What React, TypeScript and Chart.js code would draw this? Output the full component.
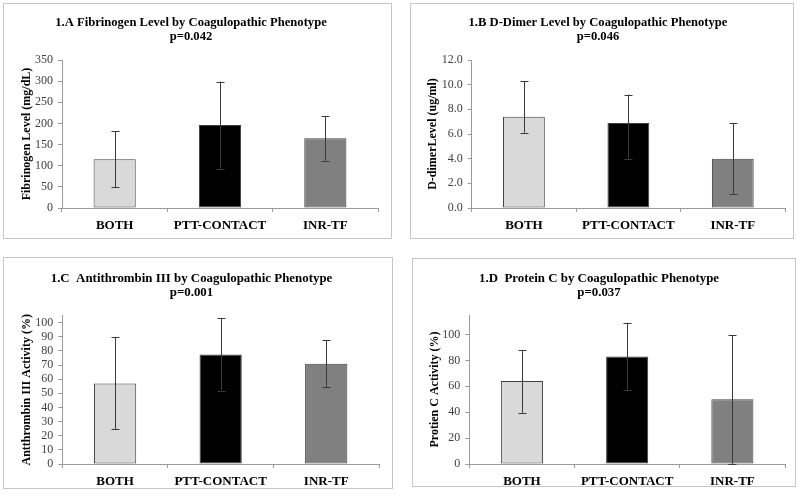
import React, { useEffect, useRef } from "react";
import { Chart, registerables } from "chart.js";

Chart.register(...registerables);

const categories = ["BOTH", "PTT-CONTACT", "INR-TF"];
const barColors = ["#d9d9d9", "#000000", "#808080"];

const fibrinogenMean = [115, 196, 165];
const fibrinogenUpper = [182, 299, 217];
const fibrinogenLower = [49, 93, 112];
const fibrinogenTicks = [0, 50, 100, 150, 200, 250, 300, 350];

const ddimerMean = [7.4, 6.9, 4.0];
const ddimerUpper = [10.3, 9.2, 6.9];
const ddimerLower = [6.1, 4.0, 1.1];
const ddimerTicks = [0, 2, 4, 6, 8, 10, 12];

const at3Mean = [57, 77.5, 71];
const at3Upper = [90, 103, 87.5];
const at3Lower = [24.5, 52, 54.5];
const at3Ticks = [0, 10, 20, 30, 40, 50, 60, 70, 80, 90, 100];

const protCMean = [64, 83, 50];
const protCUpper = [88, 109, 99.5];
const protCLower = [39.5, 57, 0];
const protCTicks = [0, 20, 40, 60, 80, 100];

const FONT = "'Liberation Serif', 'Times New Roman', serif";

const errorBarPlugin = {
  id: "errorBars",
  afterDatasetsDraw(chart: any, _args: any, opts: any) {
    const meta = chart.getDatasetMeta(0);
    const ys = chart.scales.y;
    const ctx = chart.ctx;
    ctx.save();
    ctx.strokeStyle = "#3a3a3a";
    ctx.lineWidth = 1;
    meta.data.forEach((el: any, i: number) => {
      const x = Math.round(el.x) + 0.5;
      const yU = ys.getPixelForValue(opts.upper[i]);
      const yL = ys.getPixelForValue(opts.lower[i]);
      ctx.beginPath();
      ctx.moveTo(x, yL);
      ctx.lineTo(x, yU);
      ctx.moveTo(x - 4, Math.round(yU) + 0.5);
      ctx.lineTo(x + 4, Math.round(yU) + 0.5);
      ctx.moveTo(x - 4, Math.round(yL) + 0.5);
      ctx.lineTo(x + 4, Math.round(yL) + 0.5);
      ctx.stroke();
    });
    ctx.restore();
  },
};

type PanelProps = {
  box: [number, number, number, number];
  area: [number, number, number, number];
  titleY: number;
  yTitleX: number;
  title: string[];
  titleSize: number;
  yTitle: string;
  mean: number[];
  upper: number[];
  lower: number[];
  max: number;
  ticks: number[];
  decimals: number;
};

function Panel(p: PanelProps) {
  const ref = useRef<HTMLCanvasElement>(null);
  const [bl, bt, bw, bh] = p.box;
  const cw = bw - 2;
  const ch = bh - 2;
  const ox = bl + 1;
  const oy = bt + 1;
  useEffect(() => {
    const [L, R, T, B] = p.area;
    const cl = L - ox;
    const cr = R - ox;
    const ct = T - oy;
    const cb = B - oy;
    const tlh = 14.4;
    const titleTop = p.titleY - oy - tlh / 2;
    const titleBottom = ct - titleTop - 2 * tlh;
    const ylh = 12 * 1.2;
    const chart = new Chart(ref.current as HTMLCanvasElement, {
      type: "bar",
      data: {
        labels: categories,
        datasets: [
          {
            data: p.mean,
            backgroundColor: barColors,
            borderColor: "#404040",
            borderWidth: 1,
            borderSkipped: false,
            barPercentage: 0.4,
            categoryPercentage: 1,
          },
        ],
      },
      options: {
        animation: false,
        responsive: false,
        devicePixelRatio: 1,
        layout: { padding: { left: 0, right: cw - cr, top: 0, bottom: 0 } },
        plugins: {
          legend: { display: false },
          tooltip: { enabled: false },
          title: {
            display: true,
            text: p.title,
            color: "#000",
            font: { family: FONT, size: p.titleSize, weight: "bold", lineHeight: tlh / p.titleSize },
            padding: { top: titleTop, bottom: titleBottom },
          },
          errorBars: { upper: p.upper, lower: p.lower },
        } as any,
        scales: {
          x: {
            offset: true,
            grid: {
              display: true,
              drawOnChartArea: false,
              drawTicks: true,
              tickLength: 4,
              color: "#9a9a9a",
              offset: true,
            },
            border: { display: true, color: "#9a9a9a" },
            ticks: {
              color: "#000",
              padding: 6,
              font: { family: FONT, size: 13, weight: "bold" },
              maxRotation: 0,
            },
            afterFit: (s: any) => {
              s.height = ch - cb;
            },
          },
          y: {
            min: 0,
            max: p.max,
            grid: {
              display: true,
              drawOnChartArea: false,
              drawTicks: true,
              tickLength: 4,
              color: "#9a9a9a",
            },
            border: { display: true, color: "#9a9a9a" },
            ticks: {
              autoSkip: false,
              color: "#404040",
              padding: 5,
              font: { family: FONT, size: 12 },
              callback: (v: any) => Number(v).toFixed(p.decimals),
            },
            afterBuildTicks: (s: any) => {
              s.ticks = p.ticks.map((v) => ({ value: v }));
            },
            title: {
              display: true,
              text: p.yTitle,
              color: "#000",
              font: { family: FONT, size: 12, weight: "bold", lineHeight: 1.2 },
              padding: { top: p.yTitleX - ox - ylh / 2, bottom: 0 },
            },
            afterFit: (s: any) => {
              s.width = cl;
            },
          },
        },
      },
      plugins: [errorBarPlugin],
    });
    return () => chart.destroy();
  }, []);
  return (
    <div
      style={{
        position: "absolute",
        left: bl,
        top: bt,
        width: cw,
        height: ch,
        border: "1px solid #c6c6c6",
        background: "#fff",
      }}
    >
      <canvas ref={ref} width={cw} height={ch} style={{ display: "block", width: cw, height: ch }} />
    </div>
  );
}

export default function App() {
  return (
    <div style={{ position: "fixed", left: 0, top: 0, width: 800, height: 497, background: "#fff" }}>
      <Panel
        box={[3, 3, 389, 236]}
        area={[62, 378, 60, 208]}
        titleY={22.7}
        yTitleX={27}
        title={["1.A Fibrinogen Level by Coagulopathic Phenotype", "p=0.042"]}
        titleSize={12.6}
        yTitle="Fibrinogen Level (mg/dL)"
        mean={fibrinogenMean}
        upper={fibrinogenUpper}
        lower={fibrinogenLower}
        max={350}
        ticks={fibrinogenTicks}
        decimals={0}
      />
      <Panel
        box={[410, 3, 384, 236]}
        area={[471.7, 785, 60, 208]}
        titleY={22.7}
        yTitleX={433}
        title={["1.B D-Dimer Level by Coagulopathic Phenotype", "p=0.046"]}
        titleSize={12.6}
        yTitle="D-dimerLevel (ug/ml)"
        mean={ddimerMean}
        upper={ddimerUpper}
        lower={ddimerLower}
        max={12}
        ticks={ddimerTicks}
        decimals={1}
      />
      <Panel
        box={[3, 257, 390, 232]}
        area={[62.3, 379, 315.6, 464]}
        titleY={278.3}
        yTitleX={27}
        title={["1.C  Antithrombin III by Coagulopathic Phenotype", "p=0.001"]}
        titleSize={12.9}
        yTitle="Antthrombin III Activity (%)"
        mean={at3Mean}
        upper={at3Upper}
        lower={at3Lower}
        max={105}
        ticks={at3Ticks}
        decimals={0}
      />
      <Panel
        box={[412, 258, 384, 229]}
        area={[469.3, 785, 315, 464]}
        titleY={278.3}
        yTitleX={435}
        title={["1.D  Protein C by Coagulopathic Phenotype", "p=0.037"]}
        titleSize={12.9}
        yTitle="Protien C Activity (%)"
        mean={protCMean}
        upper={protCUpper}
        lower={protCLower}
        max={115}
        ticks={protCTicks}
        decimals={0}
      />
    </div>
  );
}
